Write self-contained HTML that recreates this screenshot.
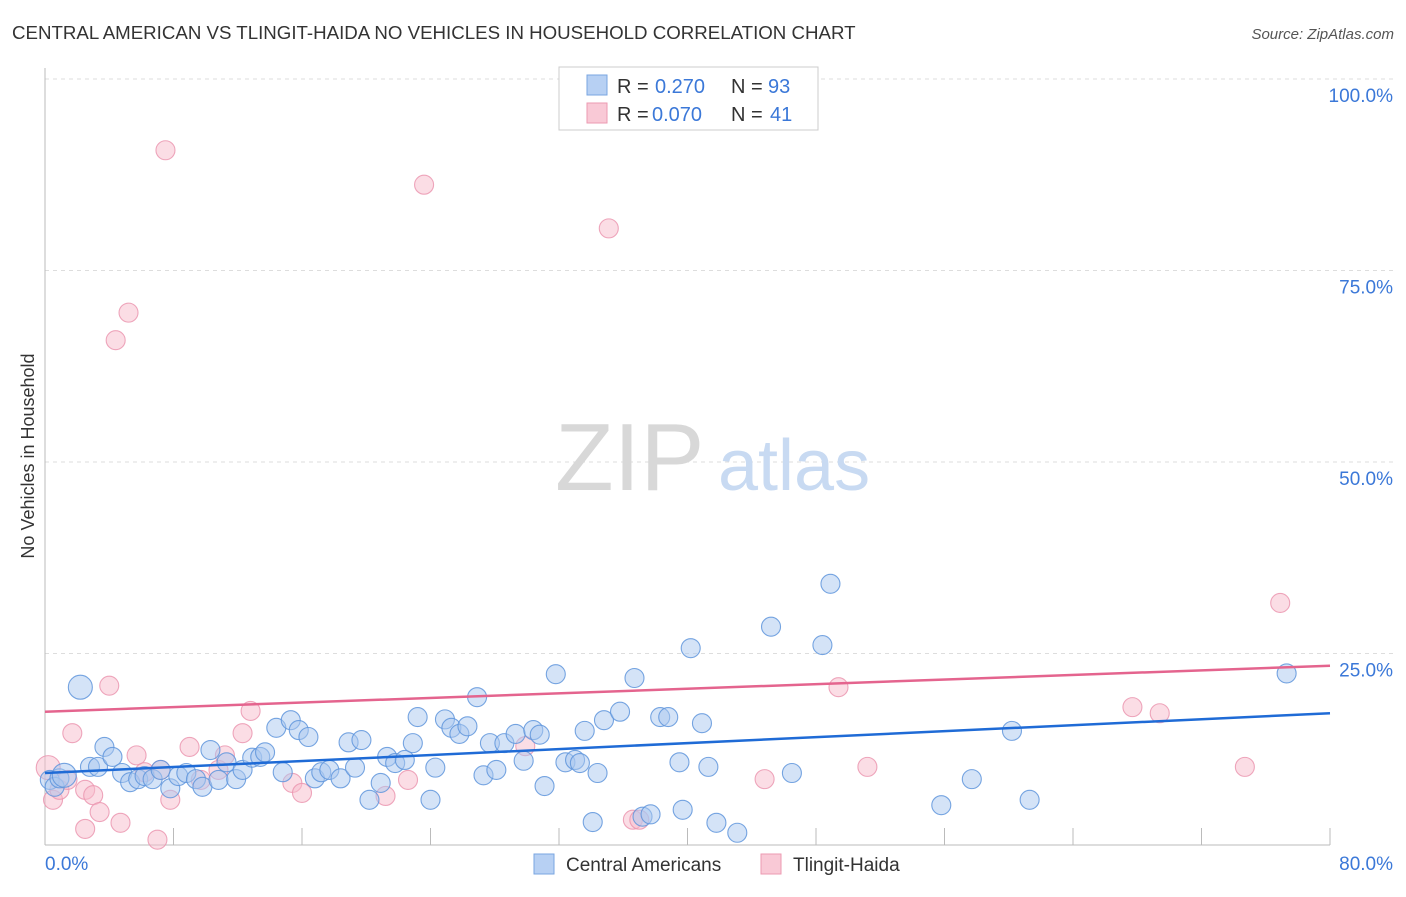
<!DOCTYPE html>
<html><head><meta charset="utf-8"><style>
body{margin:0;background:#fff;font-family:"Liberation Sans",sans-serif}
svg text{font-family:"Liberation Sans",sans-serif}
</style></head><body>
<svg width="1406" height="892" viewBox="0 0 1406 892">
<text x="12" y="39" font-size="18.7" fill="#333">CENTRAL AMERICAN VS TLINGIT-HAIDA NO VEHICLES IN HOUSEHOLD CORRELATION CHART</text>
<text x="1394" y="39" font-size="15" fill="#555" font-style="italic" text-anchor="end">Source: ZipAtlas.com</text>
<g id="grid"></g>
<text x="555" y="490" font-size="96" fill="#d8d8d8" font-family="Liberation Serif">ZIP</text>
<text x="718" y="490" font-size="72" fill="#c8daf2">atlas</text>
<text transform="translate(34,456) rotate(-90)" font-size="18" fill="#333" text-anchor="middle">No Vehicles in Household</text>
<g id="marks"></g>
<g>
<rect x="559" y="67" width="259" height="63" fill="#fff" stroke="#ccc"/>
<rect x="587" y="75" width="20" height="20" fill="#b7d0f3" stroke="#7aa6e0"/>
<text x="617" y="93" font-size="20" fill="#333">R =</text>
<text x="655" y="93" font-size="20" fill="#3b78d8">0.270</text>
<text x="731" y="93" font-size="20" fill="#333">N =</text>
<text x="768" y="93" font-size="20" fill="#3b78d8">93</text>
<rect x="587" y="103" width="20" height="20" fill="#f9c9d6" stroke="#ec9ab2"/>
<text x="617" y="121" font-size="20" fill="#333">R =</text>
<text x="652" y="121" font-size="20" fill="#3b78d8">0.070</text>
<text x="731" y="121" font-size="20" fill="#333">N =</text>
<text x="770" y="121" font-size="20" fill="#3b78d8">41</text>
</g>
<g>
<rect x="534" y="854" width="20" height="20" fill="#b7d0f3" stroke="#7aa6e0"/>
<text x="566" y="871" font-size="19" fill="#333">Central Americans</text>
<rect x="761" y="854" width="20" height="20" fill="#f9c9d6" stroke="#ec9ab2"/>
<text x="793" y="871" font-size="19" fill="#333">Tlingit-Haida</text>
</g>
</svg>
<script>
const xTicks=[0,80];
const yTicks=[25,50,75,100];
const blueX=[0.3,0.6,0.9,1.2,2.2,2.8,3.3,3.7,4.2,4.8,5.3,5.8,6.2,6.7,7.2,7.8,8.3,8.8,9.4,9.8,10.3,10.8,11.3,11.9,12.3,12.9,13.4,13.7,14.4,14.8,15.3,15.8,16.4,16.8,17.2,17.7,18.4,18.9,19.3,19.7,20.2,20.9,21.3,21.8,22.4,22.9,23.2,24.0,24.3,24.9,25.3,25.8,26.3,26.9,27.3,27.7,28.1,28.6,29.3,29.8,30.4,30.8,31.1,31.8,32.4,33.0,33.3,33.6,34.1,34.4,34.8,35.8,36.7,37.2,37.7,38.3,38.8,39.7,40.2,39.5,40.9,41.3,41.8,43.1,45.2,46.5,48.4,48.9,55.8,57.7,60.2,61.3,77.3];
const blueY=[8.5,7.6,8.7,9.1,20.6,10.2,10.2,12.8,11.5,9.4,8.2,8.6,9.0,8.6,9.8,7.4,9.0,9.4,8.6,7.6,12.4,8.5,10.8,8.6,9.8,11.4,11.5,12.1,15.3,9.5,16.3,15.0,14.1,8.7,9.5,9.8,8.7,13.4,10.1,13.7,5.9,8.1,11.5,10.7,11.1,13.3,16.7,5.9,10.1,16.4,15.3,14.5,15.5,19.3,9.1,13.3,9.8,13.3,14.5,11.0,15.0,14.4,7.7,22.3,10.8,11.1,10.7,14.9,3.0,9.4,16.3,17.4,21.8,3.7,4.0,16.7,16.7,4.6,25.7,10.8,15.9,10.2,2.9,1.6,28.5,9.4,26.1,34.1,5.2,8.6,14.9,5.9,22.4];
const pinkX=[0.2,0.5,0.9,1.4,1.7,2.5,3.0,2.5,3.4,4.0,4.7,5.7,6.2,7.0,7.2,7.8,9.0,9.7,10.8,11.2,12.3,12.8,15.4,16.0,21.2,22.6,29.9,36.6,44.8,49.4,51.2,67.7,69.4,74.7,76.9,7.5,23.6,35.1,5.2,4.4,37.0];
const pinkY=[10.1,5.9,7.2,8.5,14.6,7.2,6.5,2.1,4.3,20.8,2.9,11.7,9.5,0.7,9.8,5.9,12.8,8.5,9.8,11.7,14.6,17.5,8.1,6.8,6.4,8.5,12.9,3.3,8.6,20.6,10.2,18.0,17.2,10.2,31.6,90.7,86.2,80.5,69.5,65.9,3.3];
const blueTrend=[9.4,17.2];
const pinkTrend=[17.4,23.4];
const NS='http://www.w3.org/2000/svg';
const X0=45,X1=1330,Y0=845,YP=7.66;
const sx=v=>X0+(v-0)*(X1-X0)/80;
const sy=v=>Y0-v*YP;
function mk(t,a,p){const e=document.createElementNS(NS,t);for(const k in a)e.setAttribute(k,a[k]);p.appendChild(e);return e;}
const grid=document.getElementById('grid'),marks=document.getElementById('marks');
yTicks.forEach(t=>{
 const l=mk('line',{x1:X0,x2:1393,y1:sy(t),y2:sy(t),stroke:'#ddd','stroke-dasharray':'4,4'},grid);
 
 
 const tx=mk('text',{x:1393,y:sy(t)+23,'font-size':19,fill:'#3b78d8','text-anchor':'end'},grid);
 tx.textContent=t.toFixed(1)+'%';
 
 
});
const ax=mk('line',{x1:X0,x2:X0,y1:68,y2:Y0,stroke:'#bbb'},grid);


const bx=mk('line',{x1:X0,x2:X1,y1:Y0,y2:Y0,stroke:'#bbb'},grid);


for(let v=8;v<=80;v+=8){const t=mk('line',{x1:sx(v),x2:sx(v),y1:828,y2:Y0,stroke:'#bbb'},grid);
 
 }
xTicks.forEach((t,i)=>{const tx=mk('text',{x:i?1393:45,y:870,'font-size':19,fill:'#3b78d8','text-anchor':i?'end':'start'},grid);
 tx.textContent=t.toFixed(1)+'%';
 
 });
function pts(xs,ys,fill,stroke,name){xs.forEach((x,i)=>{const big=(name==='blue-point'&&(i===3||i===4))||(name==='pink-point'&&i===0);
 const c=mk('circle',{cx:sx(x),cy:sy(ys[i]),r:big?12:9.5,fill:fill,'fill-opacity':0.5,stroke:stroke,'stroke-width':1.1,'stroke-opacity':0.85},marks);
 
 });}
pts(pinkX,pinkY,'#f7bccb','#eb97b0','pink-point');
pts(blueX,blueY,'#aac8f0','#5f95dc','blue-point');
const pl=mk('line',{x1:sx(0),x2:sx(80),y1:sy(pinkTrend[0]),y2:sy(pinkTrend[1]),stroke:'#e4648e','stroke-width':2.5},marks);


const bl=mk('line',{x1:sx(0),x2:sx(80),y1:sy(blueTrend[0]),y2:sy(blueTrend[1]),stroke:'#1f6bd6','stroke-width':2.5},marks);


</script>
</body></html>
